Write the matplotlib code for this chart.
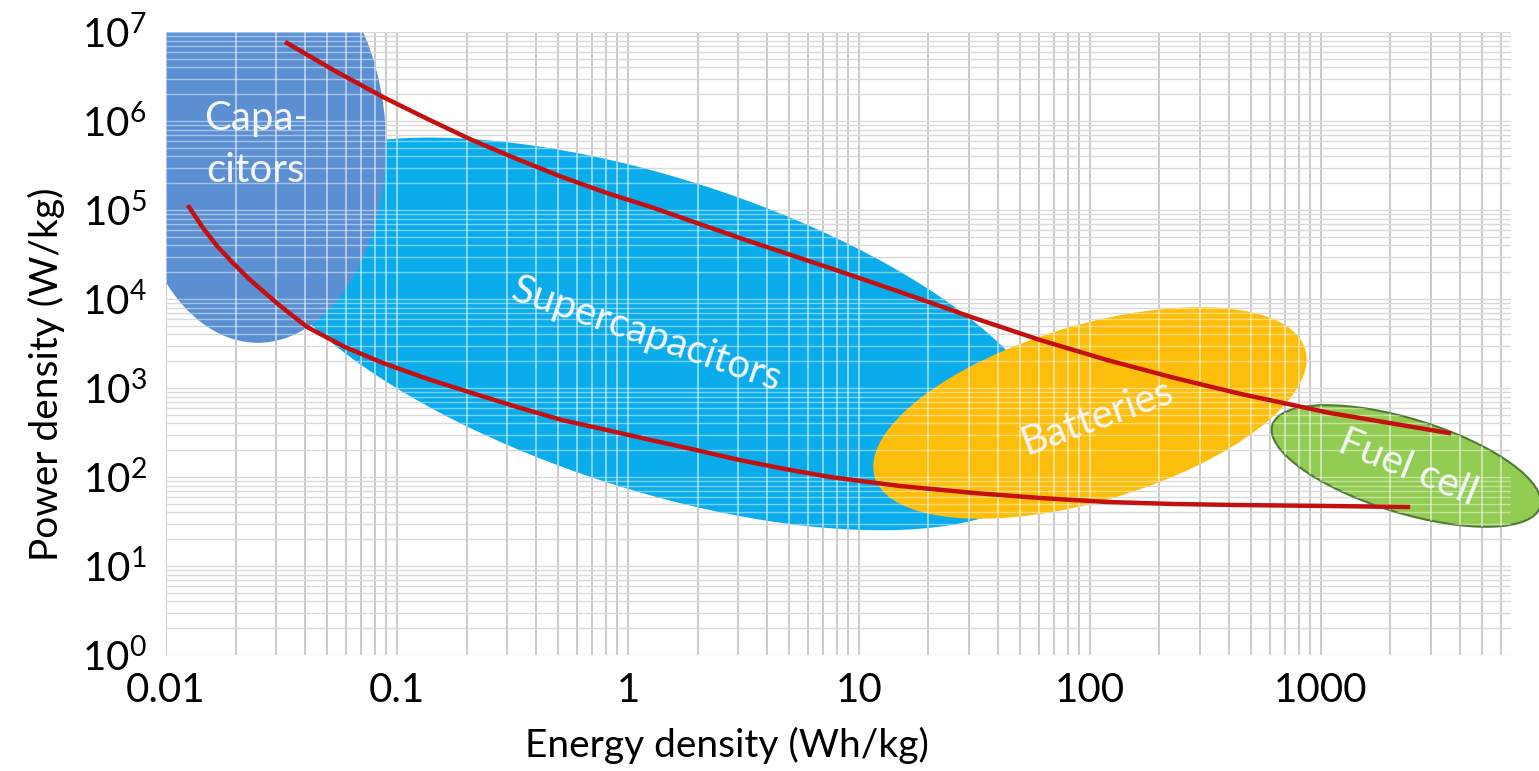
import matplotlib
matplotlib.use("Agg")
import matplotlib.pyplot as plt
from matplotlib.patches import Ellipse
from matplotlib.collections import LineCollection
from matplotlib.transforms import ScaledTranslation
from matplotlib.ticker import LogLocator, LogFormatterMathtext

plt.rcParams['font.family'] = ['Lato', 'DejaVu Sans']
plt.rcParams['mathtext.default'] = 'regular'

# regions of the Ragone plot (centre of each region, Wh/kg and W/kg)
regions = ["Capacitors", "Supercapacitors", "Batteries", "Fuel cell"]
region_energy = [0.025, 1.31, 100, 2340]
region_power = [5.4e5, 4050, 524, 133]
region_labels = ["Capa-\ncitors", "Supercapacitors", "Batteries", "Fuel cell"]
label_energy = [0.0245, 1.21, 108, 2380]
label_power = [5.4e5, 3950, 470, 129]

# upper and lower red boundary curves
upper_energy = [0.0334, 0.0539, 0.087, 0.136, 0.211, 0.331, 0.518, 0.811, 1.258, 3.05,
                7.49, 15.05, 31.5, 60.8, 118.5, 233, 451, 1094, 3583]
upper_power = [7.52e6, 3.65e6, 1.86e6, 1.05e6, 6.12e5, 3.74e5, 2.35e5, 1.55e5, 1.08e5, 4.85e4,
               2.23e4, 1.20e4, 6116, 3462, 2064, 1295, 856, 524, 312]
lower_energy = [0.01258, 0.01446, 0.01663, 0.01931, 0.02287, 0.0305, 0.0408, 0.0595, 0.087,
                0.136, 0.211, 0.331, 0.518, 0.811, 1.258, 1.97, 3.05, 4.78, 7.49, 15.05,
                31.5, 60.8, 118.5, 233, 451, 1094, 2380]
lower_power = [1.08e5, 6.28e4, 3.94e4, 2.60e4, 1.68e4, 8787, 4847, 2888, 1909,
               1262, 879, 612, 437, 337, 260, 201, 155, 123, 100, 79.2,
               66.1, 58.1, 52.4, 49.7, 48.4, 47.2, 46.0]

x_ticks = [0.01, 0.1, 1, 10, 100, 1000]
x_ticklabels = ["0.01", "0.1", "1", "10", "100", "1000"]

# shape of each region on screen (pixels) and colours
shape_w = [256, 840, 449, 280]
shape_h = [396, 312, 176, 94]
shape_angle = [0, -17.8, 16.5, -17]
fill_colors = ["#5b8fd2", "#0bacec", "#fcbd0b", "#92cc52"]
edge_colors = ["none", "none", "none", "#4f7a34"]
label_rot = [0, -19, 20, -22]

fig = plt.figure(figsize=(15.39, 7.71), dpi=100)
ax = fig.add_axes([166 / 1539, 1 - 655 / 771, (1511 - 166) / 1539, (655 - 32) / 771])
ax.set_xscale('log')
ax.set_yscale('log')
xmin, xmax, ymin, ymax = 0.01, 6650, 1, 1e7
ax.set_xlim(xmin, xmax)
ax.set_ylim(ymin, ymax)
ax.autoscale(False)

ax.xaxis.set_major_locator(LogLocator(base=10, numticks=20))
ax.xaxis.set_minor_locator(LogLocator(base=10, subs=range(2, 10), numticks=20))
ax.yaxis.set_major_locator(LogLocator(base=10, numticks=20))
ax.yaxis.set_minor_locator(LogLocator(base=10, subs=range(2, 10), numticks=20))
ax.yaxis.set_major_formatter(LogFormatterMathtext())
ax.set_xticks(x_ticks)
ax.set_xticklabels(x_ticklabels)

ax.set_axisbelow(True)
ax.grid(True, which='both', axis='x', color='#c6c6c6', lw=1.3)
ax.grid(True, which='both', axis='y', color='#dadada', lw=1.0)
for s in ax.spines.values():
    s.set_visible(False)
ax.tick_params(which='both', length=0, labelsize=29)
ax.tick_params(which='minor', labelleft=False, labelbottom=False)
ax.tick_params(axis='y', pad=14)
ax.tick_params(axis='x', pad=12)

# grid positions for the light overlay inside the coloured regions
xs = [v for v in list(ax.get_xticks()) + list(ax.get_xticks(minor=True)) if xmin <= v <= xmax]
ys = [v for v in list(ax.get_yticks()) + list(ax.get_yticks(minor=True)) if ymin <= v <= ymax]
vsegs = [[(x, ymin), (x, ymax)] for x in xs]
hsegs = [[(xmin, y), (xmax, y)] for y in ys]

order = [1, 0, 2, 3]
for k, i in enumerate(order):
    z = 1 + 0.2 * k
    trans = ScaledTranslation(region_energy[i], region_power[i], ax.transData)
    e = Ellipse((0, 0), shape_w[i], shape_h[i], angle=shape_angle[i], transform=trans,
                facecolor=fill_colors[i], edgecolor=edge_colors[i], lw=1.5, zorder=z)
    ax.add_patch(e)
    if regions[i] == "Fuel cell":
        e.set_clip_on(False)
    for segs, a, w in [(vsegs, 0.55, 1.3), (hsegs, 0.45, 1.0)]:
        lc = LineCollection(segs, colors='white', alpha=a, lw=w, zorder=z + 0.05)
        ax.add_collection(lc)
        lc.set_clip_path(e)

ax.plot(upper_energy, upper_power, color='#c41010', lw=3.2, zorder=4)
ax.plot(lower_energy, lower_power, color='#c41010', lw=3.2, zorder=4)

for i in range(len(regions)):
    ax.text(label_energy[i], label_power[i], region_labels[i], color='#f4f6f6', fontsize=29,
            rotation=label_rot[i], rotation_mode='anchor', ha='center', va='center',
            linespacing=1.5, zorder=5)

ax.set_xlabel("Energy density (Wh/kg)", fontsize=28, labelpad=13)
ax.set_ylabel("Power density (W/kg)", fontsize=28, labelpad=12)
ax.xaxis.label.set_x(0.417)
ax.yaxis.label.set_y(0.45)

fig.savefig("out.png", dpi=100)
